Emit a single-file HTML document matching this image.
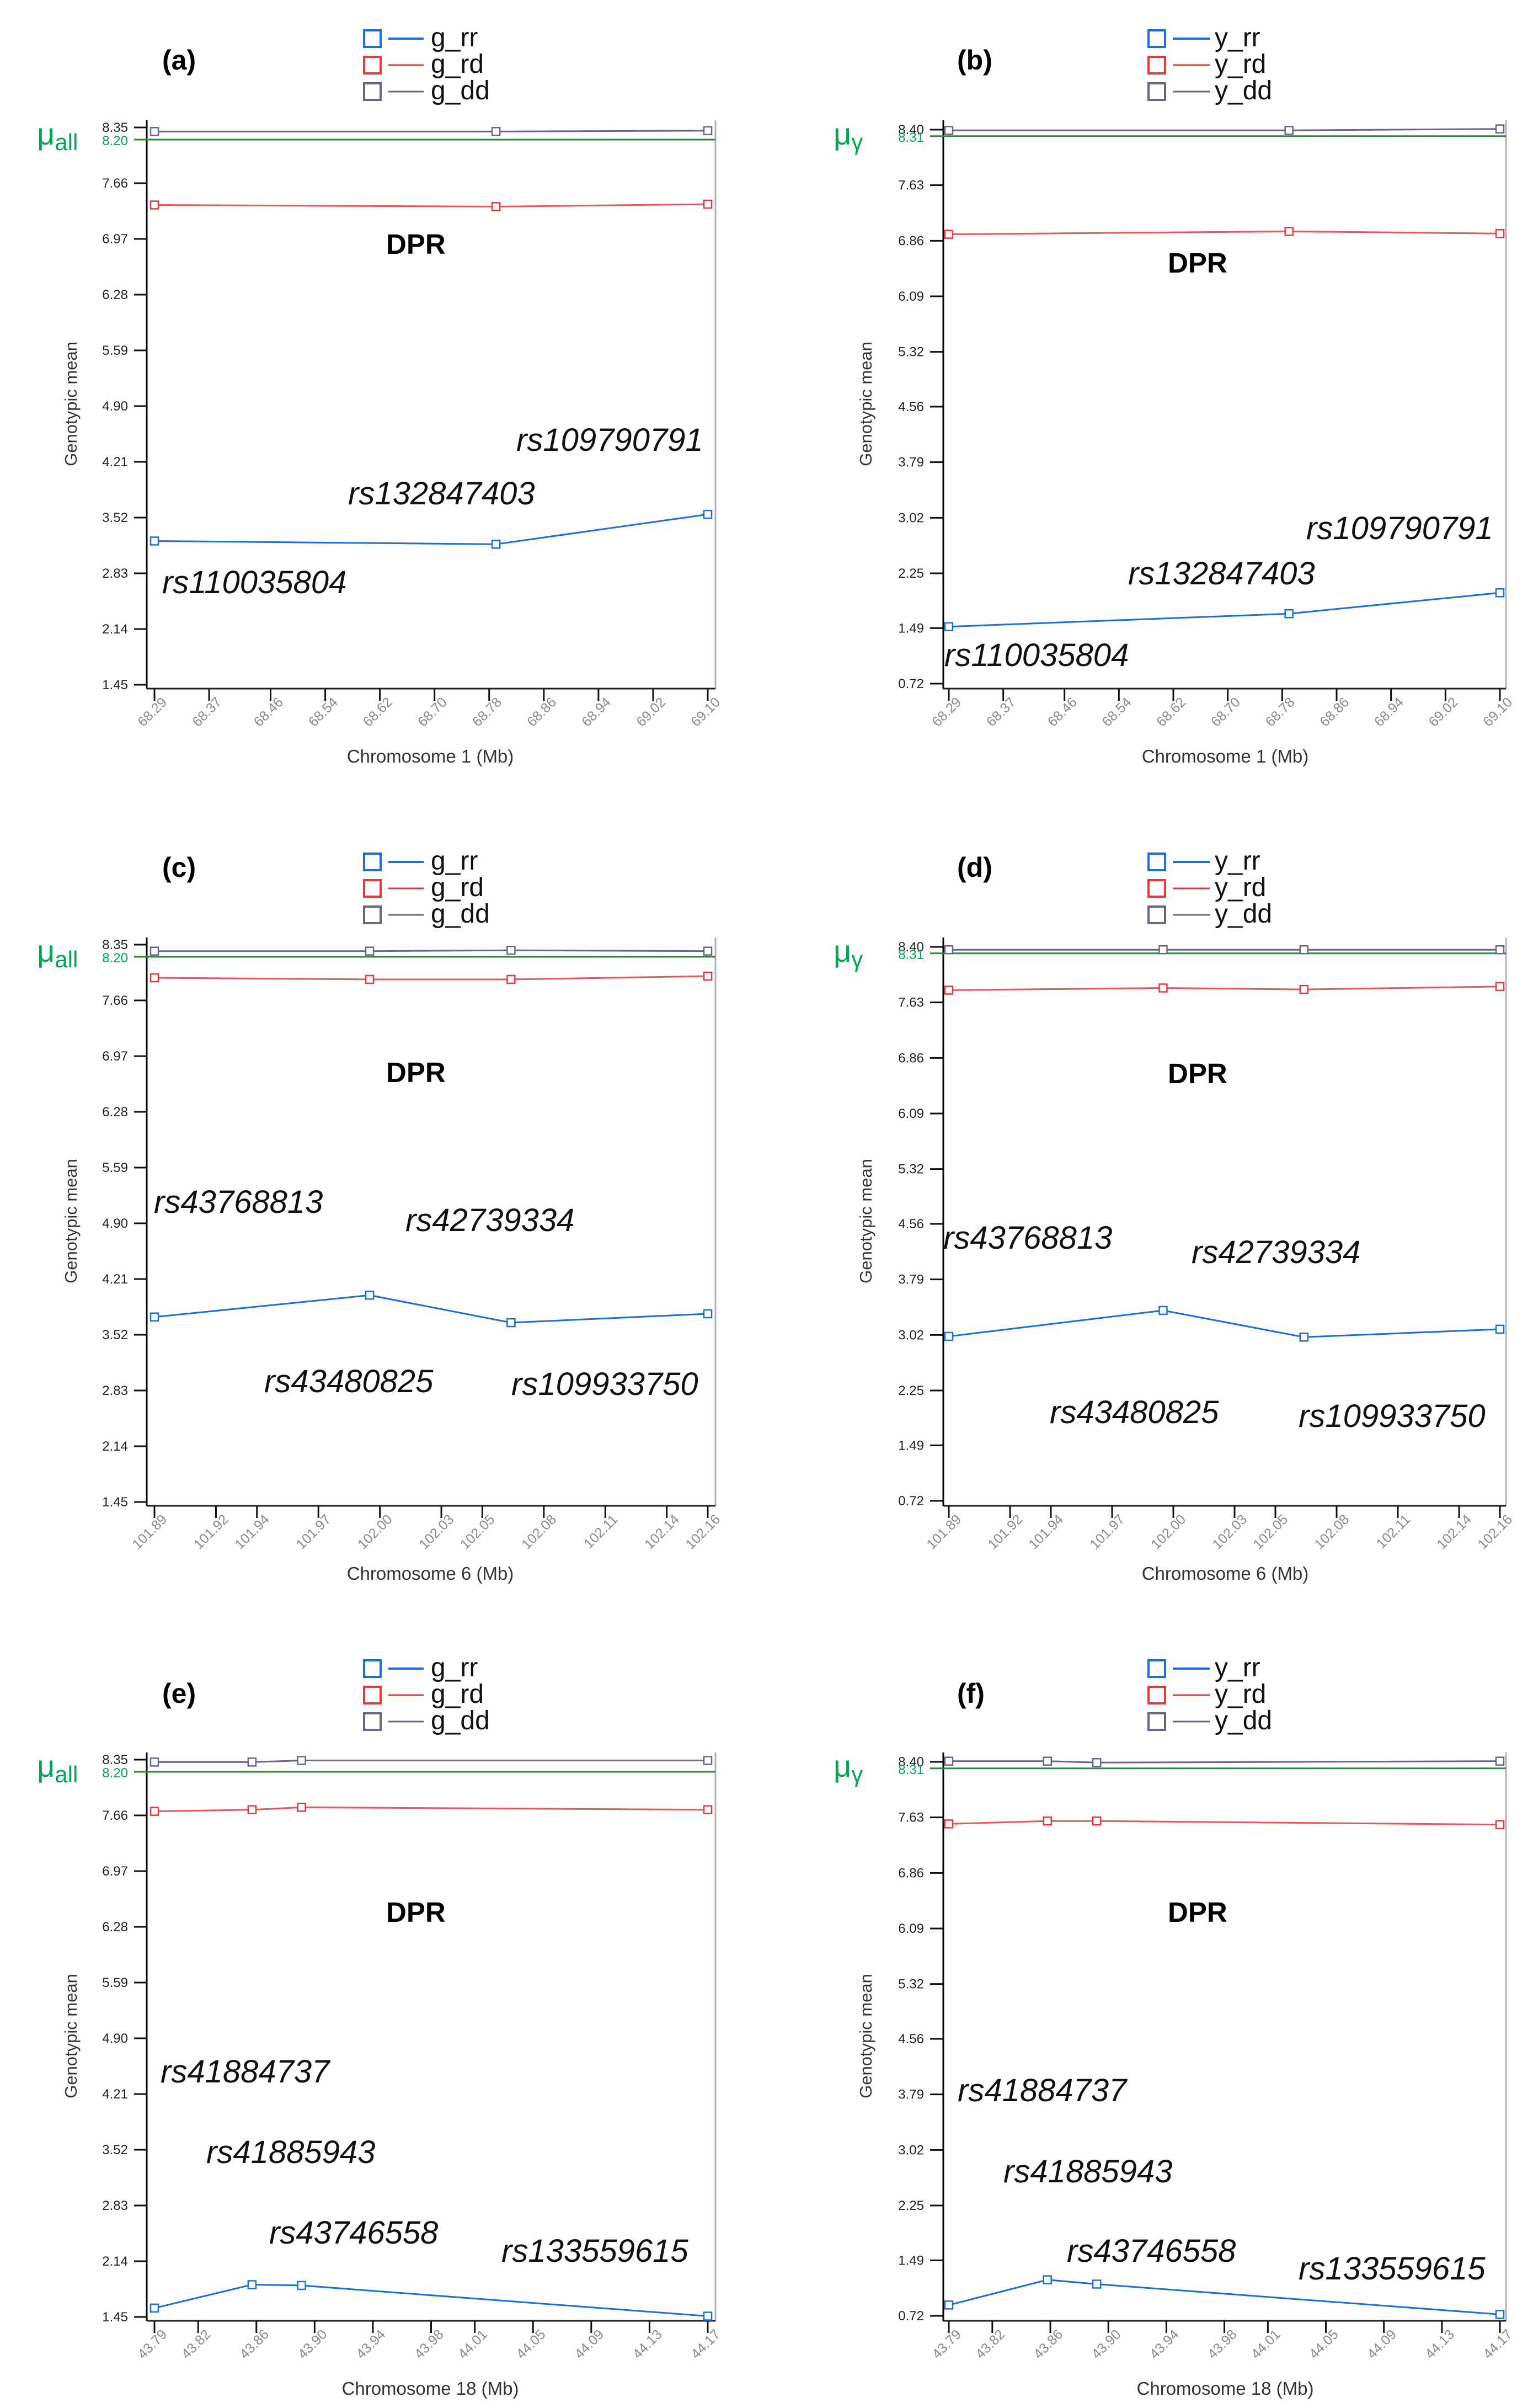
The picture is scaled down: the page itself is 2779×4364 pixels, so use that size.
<!DOCTYPE html>
<html><head><meta charset="utf-8"><title>DPR genotypic means</title>
<style>html,body{margin:0;padding:0;background:#fff}svg{display:block}</style></head>
<body>
<svg id="fig" xmlns="http://www.w3.org/2000/svg" width="2779" height="4364" viewBox="0 0 2779 4364" font-family="Liberation Sans, sans-serif"></svg>
<script>
// ---- data ----
const leftYTicks=[1.45,2.14,2.83,3.52,4.21,4.90,5.59,6.28,6.97,7.66,8.35];
const rightYTicks=[0.72,1.49,2.25,3.02,3.79,4.56,5.32,6.09,6.86,7.63,8.40];
const chr1Ticks=['68.29','68.37','68.46','68.54','68.62','68.70','68.78','68.86','68.94','69.02','69.10'];
const chr6Ticks=['101.89','101.92','101.94','101.97','102.00','102.03','102.05','102.08','102.11','102.14','102.16'];
const chr18Ticks=['43.79','43.82','43.86','43.90','43.94','43.98','44.01','44.05','44.09','44.13','44.17'];
const muAll=8.20;
const muY=8.31;

const aPos=[68.29,68.79,69.10];
const aRR=[3.23,3.19,3.56];
const aRD=[7.39,7.37,7.40];
const aDD=[8.30,8.30,8.31];

const bPos=[68.29,68.79,69.10];
const bRR=[1.51,1.69,1.98];
const bRD=[6.95,6.99,6.96];
const bDD=[8.39,8.39,8.41];

const cPos=[101.89,101.995,102.064,102.16];
const cRR=[3.74,4.01,3.67,3.78];
const cRD=[7.94,7.92,7.92,7.96];
const cDD=[8.27,8.27,8.28,8.27];

const dPos=[101.89,101.995,102.064,102.16];
const dRR=[3.00,3.36,2.99,3.10];
const dRD=[7.80,7.83,7.81,7.85];
const dDD=[8.36,8.36,8.36,8.36];

const ePos=[43.79,43.857,43.891,44.17];
const eRR=[1.56,1.85,1.84,1.46];
const eRD=[7.71,7.73,7.76,7.73];
const eDD=[8.32,8.32,8.34,8.34];

const fPos=[43.79,43.858,43.892,44.17];
const fRR=[0.87,1.22,1.16,0.74];
const fRD=[7.54,7.58,7.58,7.53];
const fDD=[8.41,8.41,8.39,8.41];

// ---- rendering ----
const NS='http://www.w3.org/2000/svg';
const svg=document.getElementById('fig');
function mk(parent,tag,attrs,txt){const e=document.createElementNS(NS,tag);for(const k in attrs)e.setAttribute(k,attrs[k]);if(txt!==undefined)e.textContent=txt;parent.appendChild(e);return e;}

const GEO={
 L:{axisX:266,rightX:1297,x0:280,x1:1283,yT:231,yB:1241,top:218,bottom:1248,tlr:232,tks:243,yTitleX:129,xTitleCx:780,muX:67,sq:660,l1:704,l2:768,tx:781},
 R:{axisX:290,rightX:1310,x0:300,x1:1299,yT:235,yB:1239,top:218,bottom:1248,tlr:255,tks:266,yTitleX:150,xTitleCx:801,muX:91,sq:662,l1:706,l2:773,tx:782}
};
const COL={rr:'#1a6fd8',rd:'#e8383d',dd:'#66668a',mu:'#2e8b3e'};

function drawPanel(p){
 const G=GEO[p.side];
 const g=mk(svg,'g',{transform:'translate('+p.ox+','+p.oy+')'});
 
 
 const yt=p.yTicks, ymin=yt[0], ymax=yt[yt.length-1];
 const Y=v=>G.yT+(ymax-v)/(ymax-ymin)*(G.yB-G.yT);
 const xmin=parseFloat(p.xTicks[0]), xmax=parseFloat(p.xTicks[p.xTicks.length-1]);
 const X=v=>G.x0+(v-xmin)/(xmax-xmin)*(G.x1-G.x0);

 // panel label
 const lab=mk(g,'text',{x:p.labX,y:p.labY,'font-size':50,'font-weight':'bold',fill:'#000'},'('+p.id+')');
 
 
 // legend
 const keys=['rr','rd','dd'];
 keys.forEach((k,i)=>{
  const cy=p.legY+i*48;
  const lg=mk(g,'g',{});
  
  
  mk(lg,'rect',{x:G.sq,y:cy-15,width:30,height:30,fill:'#fff',stroke:COL[k],'stroke-width':4});
  mk(lg,'line',{x1:G.l1,x2:G.l2,y1:cy,y2:cy,stroke:COL[k],'stroke-width':k==='rr'?4:3});
  mk(lg,'text',{x:G.tx,y:cy+14,'font-size':48,fill:'#111'},p.prefix+'_'+k);
 });
 // mu label
 const mu=mk(g,'text',{x:G.muX,y:262,'font-size':56,fill:'#00a651'},'μ');
 
 
 mk(mu,'tspan',{dy:10,'font-size':42},p.muSub);
 // axes
 const frame=mk(g,'line',{x1:G.rightX,x2:G.rightX,y1:G.top,y2:G.bottom,stroke:'#b0b0b0','stroke-width':3});
 
 
 const ya=mk(g,'line',{x1:G.axisX,x2:G.axisX,y1:G.top,y2:G.bottom,stroke:'#000','stroke-width':3});
 
 
 const xa=mk(g,'line',{x1:G.axisX,x2:G.rightX,y1:G.bottom,y2:G.bottom,stroke:'#222','stroke-width':3});
 
 
 // y ticks
 yt.forEach(v=>{
  const y=Y(v);
  const t=mk(g,'line',{x1:G.tks,x2:G.axisX,y1:y,y2:y,stroke:'#111','stroke-width':3});
  
  
  const tl=mk(g,'text',{x:G.tlr,y:y+8,'font-size':24,'text-anchor':'end',fill:'#222'},v.toFixed(2));
  
  
 });
 // mu line
 const my=Y(p.mu);
 const ml=mk(g,'line',{x1:G.tks,x2:G.rightX,y1:my,y2:my,stroke:COL.mu,'stroke-width':3});
 
 
 const mtl=mk(g,'text',{x:G.tlr,y:my+10,'font-size':24,'text-anchor':'end',fill:'#00a651'},p.mu.toFixed(2));
 
 
 // x ticks
 p.xTicks.forEach(s=>{
  const x=X(parseFloat(s));
  const t=mk(g,'line',{x1:x,x2:x,y1:G.bottom,y2:G.bottom+22,stroke:'#111','stroke-width':3});
  
  
  const tl=mk(g,'text',{x:0,y:0,'font-size':25,'text-anchor':'end',fill:'#8a8a8a',transform:'translate('+(x+24)+','+(G.bottom+26)+') rotate(-45)'},s);
  
  
 });
 // axis titles
 const yTitle=mk(g,'text',{x:0,y:0,'font-size':31,'text-anchor':'middle',fill:'#333',transform:'translate('+(G.yTitleX+10)+',732) rotate(-90)'},'Genotypic mean');
 
 
 const xTitle=mk(g,'text',{x:G.xTitleCx,y:1382,'font-size':33,'text-anchor':'middle',fill:'#333'},p.xTitle);
 
 
 // DPR
 const dpr=mk(g,'text',{x:p.dprX,y:p.dprY,'font-size':51,'font-weight':'bold',fill:'#000'},'DPR');
 
 
 // series
 const series=[['dd',p.dd],['rd',p.rd],['rr',p.rr]];
 series.forEach(([k,vals])=>{
  const pts=vals.map((v,i)=>X(p.pos[i])+','+Y(v)).join(' ');
  const pl=mk(g,'polyline',{points:pts,fill:'none',stroke:COL[k],'stroke-width':3,'stroke-opacity':k==='rd'?0.85:1});
  
  
  vals.forEach((v,i)=>{
   const m=mk(g,'rect',{x:X(p.pos[i])-7,y:Y(v)-7,width:14,height:14,fill:'#fff',stroke:COL[k],'stroke-width':2.5});
   
   
  });
 });
 // SNP annotations
 p.snps.forEach(s=>{
  const t=mk(g,'text',{x:s[1],y:s[2],'font-size':58,'font-style':'italic',fill:'#111'},s[0]);
  
  
 });
}

drawPanel({id:'a',side:'L',ox:0,oy:0,prefix:'g',muSub:'all',mu:muAll,yTicks:leftYTicks,xTicks:chr1Ticks,xTitle:'Chromosome 1 (Mb)',
 pos:aPos,rr:aRR,rd:aRD,dd:aDD,labX:294,labY:126,legY:70,dprX:700,dprY:460,
 snps:[['rs109790791',936,817],['rs132847403',631,914],['rs110035804',294,1075]]});
drawPanel({id:'b',side:'R',ox:1420,oy:0,prefix:'y',muSub:'γ',mu:muY,yTicks:rightYTicks,xTicks:chr1Ticks,xTitle:'Chromosome 1 (Mb)',
 pos:bPos,rr:bRR,rd:bRD,dd:bDD,labX:315,labY:126,legY:70,dprX:697,dprY:494,
 snps:[['rs109790791',948,977],['rs132847403',625,1059],['rs110035804',292,1207]]});
drawPanel({id:'c',side:'L',ox:0,oy:1481,prefix:'g',muSub:'all',mu:muAll,yTicks:leftYTicks,xTicks:chr6Ticks,xTitle:'Chromosome 6 (Mb)',
 pos:cPos,rr:cRR,rd:cRD,dd:cDD,labX:294,labY:108,legY:81,dprX:700,dprY:480,
 snps:[['rs43768813',279,717],['rs42739334',735,750],['rs43480825',479,1042],['rs109933750',927,1047]]});
drawPanel({id:'d',side:'R',ox:1420,oy:1481,prefix:'y',muSub:'γ',mu:muY,yTicks:rightYTicks,xTicks:chr6Ticks,xTitle:'Chromosome 6 (Mb)',
 pos:dPos,rr:dRR,rd:dRD,dd:dDD,labX:315,labY:108,legY:81,dprX:697,dprY:482,
 snps:[['rs43768813',290,782],['rs42739334',740,808],['rs43480825',483,1098],['rs109933750',934,1105]]});
drawPanel({id:'e',side:'L',ox:0,oy:2958,prefix:'g',muSub:'all',mu:muAll,yTicks:leftYTicks,xTicks:chr18Ticks,xTitle:'Chromosome 18 (Mb)',
 pos:ePos,rr:eRR,rd:eRD,dd:eDD,labX:294,labY:128,legY:66,dprX:700,dprY:525,
 snps:[['rs41884737',291,816],['rs41885943',374,962],['rs43746558',488,1108],['rs133559615',909,1141]]});
drawPanel({id:'f',side:'R',ox:1420,oy:2958,prefix:'y',muSub:'γ',mu:muY,yTicks:rightYTicks,xTicks:chr18Ticks,xTitle:'Chromosome 18 (Mb)',
 pos:fPos,rr:fRR,rd:fRD,dd:fDD,labX:315,labY:128,legY:66,dprX:697,dprY:525,
 snps:[['rs41884737',316,850],['rs41885943',399,997],['rs43746558',514,1141],['rs133559615',934,1173]]});
</script>
</body></html>
